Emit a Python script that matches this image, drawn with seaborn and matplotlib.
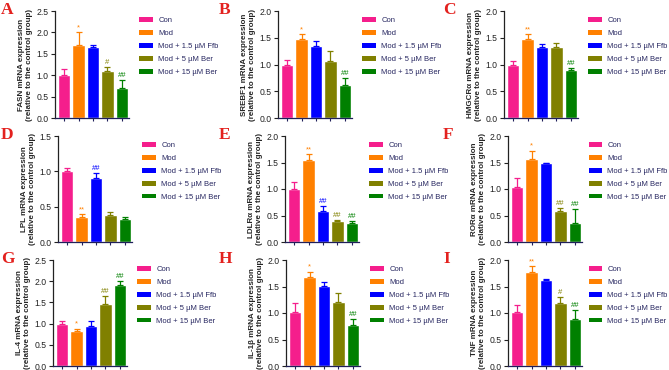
import numpy as np
import pandas as pd
import seaborn as sns
import matplotlib.pyplot as plt
from matplotlib.patches import Patch

# groups and colours
groups = ["Con", "Mod", "Mod + 1.5 µM Ffb", "Mod + 5 µM Ber", "Mod + 15 µM Ber"]
colors = ["#F51E8C", "#FF8000", "#0000FF", "#808000", "#008000"]

# panels
letters = ["A", "B", "C", "D", "E", "F", "G", "H", "I"]
genes = ["FASN", "SREBF1", "HMGCRα", "LPL", "LDLRα", "RORα", "IL-4", "IL-1β", "TNF"]
ymax = [2.5, 2.0, 2.0, 1.5, 2.0, 2.0, 2.5, 2.0, 2.0]

# mean values
fasn = [1.0, 1.70, 1.65, 1.10, 0.71]
srebf1 = [1.0, 1.47, 1.35, 1.07, 0.61]
hmgcr = [1.0, 1.47, 1.32, 1.32, 0.90]
lpl = [1.0, 0.35, 0.90, 0.38, 0.32]
ldlr = [1.0, 1.54, 0.58, 0.40, 0.35]
rora = [1.03, 1.57, 1.49, 0.58, 0.35]
il4 = [1.0, 0.82, 0.95, 1.47, 1.90]
il1b = [1.02, 1.68, 1.51, 1.20, 0.77]
tnf = [1.01, 1.78, 1.62, 1.18, 0.88]

# upper error (SD)
fasn_err = [0.15, 0.30, 0.05, 0.10, 0.17]
srebf1_err = [0.08, 0.10, 0.08, 0.19, 0.14]
hmgcr_err = [0.06, 0.10, 0.07, 0.08, 0.03]
lpl_err = [0.05, 0.04, 0.08, 0.04, 0.03]
ldlr_err = [0.14, 0.12, 0.10, 0.02, 0.04]
rora_err = [0.18, 0.15, 0.01, 0.06, 0.27]
il4_err = [0.07, 0.06, 0.10, 0.17, 0.10]
il1b_err = [0.17, 0.10, 0.07, 0.18, 0.12]
tnf_err = [0.14, 0.10, 0.02, 0.13, 0.18]

# significance marks
fasn_sig = ["", "*", "", "#", "##"]
srebf1_sig = ["", "*", "", "", "##"]
hmgcr_sig = ["", "**", "", "", "##"]
lpl_sig = ["", "**", "##", "", ""]
ldlr_sig = ["", "**", "##", "##", "##"]
rora_sig = ["", "*", "", "##", "##"]
il4_sig = ["", "*", "", "##", "##"]
il1b_sig = ["", "*", "", "", "##"]
tnf_sig = ["", "**", "", "#", "##"]

means = [fasn, srebf1, hmgcr, lpl, ldlr, rora, il4, il1b, tnf]
errs = [fasn_err, srebf1_err, hmgcr_err, lpl_err, ldlr_err, rora_err, il4_err, il1b_err, tnf_err]
sigs = [fasn_sig, srebf1_sig, hmgcr_sig, lpl_sig, ldlr_sig, rora_sig, il4_sig, il1b_sig, tnf_sig]

sns.set_style("ticks")
plt.rcParams["font.family"] = ["Liberation Sans", "DejaVu Sans"]

W, H = 669, 370
fig = plt.figure(figsize=(W / 100, H / 100), dpi=100)

# layout in pixels
ax_left = [55, 278, 504, 58, 285, 508, 53, 286, 508]
row_top = [11, 136, 260]
row_bot = [118, 242, 366]
letter_x = [1, 219, 443]
leg_x = [1.1, 1.1, 1.1, 1.1, 1.1, 1.05, 1.1, 1.1, 1.05]
ax_w = 74

for i in range(9):
    r, c = i // 3, i % 3
    l = ax_left[i]
    ax = fig.add_axes([l / W, 1 - row_bot[r] / H, ax_w / W, (row_bot[r] - row_top[r]) / H])
    df = pd.DataFrame({"group": groups, "value": means[i]})
    sns.barplot(data=df, x="group", y="value", hue="group", palette=colors,
                width=0.85, legend=False, errorbar=None, ax=ax, saturation=1)
    for j in range(5):
        ax.errorbar(j, means[i][j], yerr=[[0], [errs[i][j]]], fmt="none",
                    ecolor=colors[j], elinewidth=0.9, capsize=2.3, capthick=0.9)
        if sigs[i][j]:
            ax.text(j, means[i][j] + errs[i][j] + ymax[i] * 0.01, sigs[i][j],
                    ha="center", va="bottom", fontsize=5.5, color=colors[j])
    ax.set_xlim(-0.64, 4.5)
    ax.set_ylim(0, ymax[i])
    ax.set_yticks(np.arange(0, ymax[i] + 0.01, 0.5))
    ax.set_yticklabels([f"{v:.1f}" for v in np.arange(0, ymax[i] + 0.01, 0.5)])
    ax.set_xticks(range(5))
    ax.set_xticklabels([])
    ax.set_xlabel("")
    ax.set_ylabel(f"{genes[i]} mRNA expression\n(relative to the control group)",
                  fontsize=5.8, fontweight="bold", labelpad=2.5, linespacing=1.15)
    ax.tick_params(axis="y", labelsize=6.2, length=3, width=0.8, pad=1.5, colors="#222222")
    ax.tick_params(axis="x", length=2.5, width=0.8, color="#1f1f5a")
    ax.spines["left"].set_linewidth(0.9)
    ax.spines["left"].set_color("#222222")
    ax.spines["bottom"].set_linewidth(0.9)
    ax.spines["bottom"].set_color("#1f1f5a")
    sns.despine(ax=ax)
    handles = [Patch(facecolor=col, edgecolor="none") for col in colors]
    leg = ax.legend(handles, groups, loc="upper left", bbox_to_anchor=(leg_x[i], 0.97),
                    frameon=False, fontsize=5.5, handlelength=1.75, handleheight=0.6,
                    labelspacing=0.75, handletextpad=0.7, borderaxespad=0)
    for t in leg.get_texts():
        t.set_color("#262660")
    fig.text(letter_x[c] / W, 1 - (row_top[r] - 9) / H, letters[i], ha="left", va="top",
             fontsize=12.5, fontweight="bold", color="#E3211E", family="Liberation Serif")

fig.savefig("out.png", dpi=100)
